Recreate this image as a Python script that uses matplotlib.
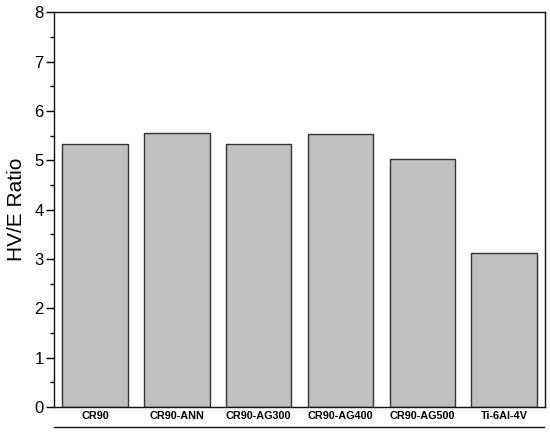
import matplotlib
matplotlib.use("Agg")
import matplotlib.pyplot as plt
from matplotlib.lines import Line2D
from matplotlib.ticker import MultipleLocator

plt.rcParams["font.family"] = ["Liberation Sans", "DejaVu Sans"]

samples = ["CR90", "CR90-ANN", "CR90-AG300", "CR90-AG400", "CR90-AG500", "Ti-6Al-4V"]
hv_e_ratio = [5.33, 5.56, 5.34, 5.54, 5.02, 3.13]

fig = plt.figure(figsize=(5.5, 4.33), dpi=100)
ax = fig.add_axes([0.0982, 0.060, 0.893, 0.9116])

x = range(len(samples))
ax.bar(x, hv_e_ratio, width=0.8, color="#c0c0c0", edgecolor="#333333", linewidth=1.0)

ax.set_xlim(-0.5, len(samples) - 0.5)
ax.set_ylim(0, 8)
ax.set_xticks(list(x))
ax.set_xticklabels(samples, fontsize=7.8, fontweight="bold")
ax.tick_params(axis="x", length=0, pad=3)
ax.yaxis.set_major_locator(MultipleLocator(1))
ax.yaxis.set_minor_locator(MultipleLocator(0.5))
ax.tick_params(axis="y", which="major", direction="out", length=5.5, width=1.0, labelsize=12, pad=2)
ax.tick_params(axis="y", which="minor", direction="out", length=2.8, width=1.0)
ax.set_ylabel("HV/E Ratio", fontsize=15, labelpad=6)

for s in ax.spines.values():
    s.set_linewidth(1.0)
    s.set_color("#111111")

# underline below the category labels
fig.add_artist(Line2D([54 / 550, 544 / 550], [0.0145, 0.0145],
                      transform=fig.transFigure, color="#111111", lw=1.0))

plt.savefig("out.png", dpi=100)
